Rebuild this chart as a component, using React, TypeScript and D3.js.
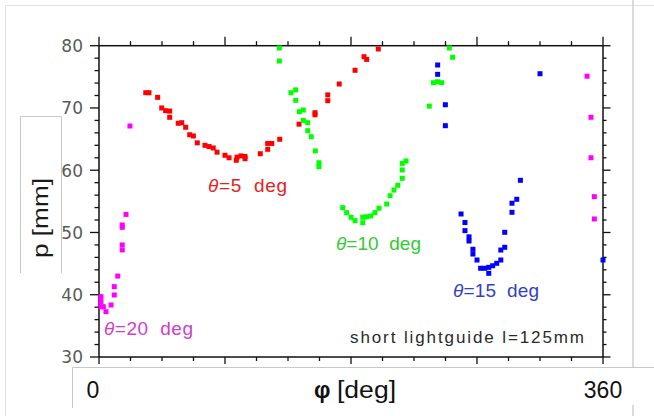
import React from "react";
import * as d3 from "d3";

// p [mm] vs phi [deg] for four theta settings
const theta5: [number, number][] = [
  [33.4, 72.45], [35.7, 72.45], [41.9, 71.7], [44.8, 70.0], [47.6, 69.56],
  [50.5, 69.5], [50.5, 68.5], [56.6, 67.54], [59.1, 67.63], [61.9, 66.9],
  [64.8, 65.7], [67.4, 65.5], [70.2, 64.4], [75.7, 64.0], [78.6, 63.8],
  [81.6, 63.57], [84.3, 62.9], [90.0, 62.4], [92.9, 62.0], [98.1, 61.6],
  [98.6, 62.1], [101.4, 62.3], [104.3, 62.2], [104.3, 61.85], [115.2, 62.65],
  [120.5, 63.36], [123.4, 64.3], [120.5, 64.3], [129.1, 64.97], [142.9, 67.4],
  [154.3, 69.24], [154.3, 68.9], [163.4, 72.1], [163.4, 71.17], [171.6, 73.85],
  [182.9, 76.05], [189.3, 78.23], [191.2, 77.8], [199.5, 79.47],
];

const theta10: [number, number][] = [
  [128.8, 79.63], [128.8, 77.54], [137.1, 72.45], [140.5, 72.9], [140.5, 71.23],
  [143.1, 69.4], [145.9, 69.67], [145.9, 68.0], [149.1, 67.63], [149.1, 66.35],
  [151.6, 65.38], [154.5, 63.1], [157.1, 61.2], [157.1, 60.57], [174.1, 53.98],
  [176.9, 53.18], [180.0, 52.44], [182.9, 51.9], [188.4, 52.44], [188.4, 51.57],
  [191.2, 52.53], [194.1, 52.65], [197.1, 53.18], [200.0, 53.9], [205.5, 54.57],
  [207.9, 55.9], [210.7, 56.82], [213.4, 57.58], [216.6, 58.7], [216.6, 60.04],
  [216.6, 61.1], [219.3, 61.48], [235.9, 70.3], [238.8, 74.06], [241.9, 74.2],
  [244.8, 74.06], [250.2, 79.63], [252.6, 78.14],
];

const theta15: [number, number][] = [
  [241.9, 76.9], [241.9, 75.4], [247.4, 70.52], [247.4, 67.15], [258.6, 52.97],
  [261.4, 51.6], [261.4, 50.3], [264.3, 49.3], [264.3, 48.63], [267.1, 47.3],
  [267.1, 46.54], [270.0, 45.58], [272.6, 44.25], [275.5, 44.25], [278.4, 44.4],
  [278.4, 43.44], [281.2, 44.66], [284.1, 45.05], [287.0, 45.58], [287.0, 47.18],
  [289.8, 47.62], [289.8, 50.03], [295.0, 53.24], [295.0, 54.7], [298.4, 55.33],
  [301.0, 58.38], [315.0, 75.5], [360.0, 45.58],
];

const theta20: [number, number][] = [
  [1.4, 39.7], [1.4, 38.9], [1.4, 38.08], [3.1, 38.08], [5.0, 37.28], [8.6, 38.35],
  [10.9, 41.3], [10.9, 39.96], [13.4, 43.0], [16.6, 51.2], [16.6, 50.83],
  [16.6, 48.0], [16.6, 47.2], [19.3, 52.9], [22.1, 67.1], [348.6, 75.1],
  [351.4, 68.5], [351.4, 62.0], [353.8, 55.75], [353.8, 52.17],
];

const yTickLabels = [30, 40, 50, 60, 70, 80];
const xTickLabels = [0, 360];

const x = d3.scaleLinear().domain([0, 360]).range([99, 603]);
const y = d3.scaleLinear().domain([30, 80]).range([357, 45.7]);

const xTicks = d3.range(0, 360.01, 22.5);
const yTicks = d3.range(30, 80.01, 2);

const series = [
  { data: theta5, color: "#ff0000" },
  { data: theta10, color: "#00ff00" },
  { data: theta15, color: "#0000ff" },
  { data: theta20, color: "#ff00ff" },
];

const M = 5; // marker size

export default function App() {
  const [x0, x1] = x.range();
  const [y0, y1] = y.range();
  const axis = "#111";
  const isMajorX = (t: number) => t % 90 === 0;
  const isMajorY = (t: number) => t % 10 === 0;
  return (
    <div style={{ position: "absolute", left: 0, top: 0 }}>
      <svg width={654} height={416} style={{ display: "block", background: "#fff" }}>
        {/* outer frame */}
        <line x1={5.5} y1={5.5} x2={654} y2={5.5} stroke="#e2e2e2" />
        <line x1={5.5} y1={5.5} x2={5.5} y2={416} stroke="#e2e2e2" />
        <line x1={633} y1={0} x2={633} y2={367} stroke="#cfcfcf" strokeWidth={1.5} />
        <line x1={633} y1={405} x2={633} y2={416} stroke="#cfcfcf" strokeWidth={1.5} />

        {/* y label box */}
        <path d="M20.5,273 V116.5 H61.5 V273" fill="none" stroke="#c8c8c8" />
        {/* x label box */}
        <path d="M72.5,408 V367.5 H654" fill="none" stroke="#c8c8c8" />

        {/* axes frame */}
        <rect x={x0} y={y1} width={x1 - x0} height={y0 - y1} fill="none" stroke={axis} strokeWidth={1.5} />

        {xTicks.map((t) => {
          const px = x(t);
          const top = isMajorX(t) ? 9 : 4.5;
          const bot = isMajorX(t) ? 7 : 4;
          return (
            <g key={"xt" + t} stroke={axis} strokeWidth={1.3}>
              <line x1={px} x2={px} y1={y1} y2={y1 - top} />
              <line x1={px} x2={px} y1={y0} y2={y0 + bot} />
            </g>
          );
        })}
        {yTicks.map((t) => {
          const py = y(t);
          const left = isMajorY(t) ? 9 : 4.5;
          const right = isMajorY(t) ? 7.5 : 3.5;
          return (
            <g key={"yt" + t} stroke={axis} strokeWidth={1.3}>
              <line x1={x0} x2={x0 - left} y1={py} y2={py} />
              <line x1={x1} x2={x1 + right} y1={py} y2={py} />
            </g>
          );
        })}

        {yTickLabels.map((t) => (
          <text
            key={"yl" + t}
            x={83}
            y={y(t) + 6.4}
            textAnchor="end"
            fontFamily="DejaVu Sans"
            fontSize={17}
            fill="#5a5a5a"
          >
            {t}
          </text>
        ))}

        {xTickLabels.map((t) => (
          <text
            key={"xl" + t}
            x={x(t) - (t === 0 ? 6 : 0)}
            y={397.5}
            textAnchor="middle"
            fontFamily="Liberation Sans"
            fontSize={23}
            fill="#111"
          >
            {t}
          </text>
        ))}

        <text x={314} y={397.5} fontFamily="Liberation Sans" fontSize={23} fontWeight="bold" fill="#111">
          φ
        </text>
        <text
          x={337}
          y={397.5}
          fontFamily="Liberation Sans"
          fontSize={23}
          fill="#111"
          textLength={59}
          lengthAdjust="spacingAndGlyphs"
        >
          [deg]
        </text>
        <text
          transform="translate(48,218) rotate(-90)"
          textAnchor="middle"
          fontFamily="Liberation Sans"
          fontSize={22}
          fill="#1a1a1a"
          textLength={80}
          lengthAdjust="spacingAndGlyphs"
        >
          p [mm]
        </text>

        {/* markers */}
        {series.map((s, i) => (
          <g key={"s" + i} fill={s.color}>
            {s.data.map(([phi, p], j) => (
              <rect key={j} x={x(phi) - M / 2} y={y(p) - M / 2} width={M} height={M} />
            ))}
          </g>
        ))}

        {/* annotations */}
        <g fontFamily="Liberation Sans" fontSize={19}>
          <text x={208} y={192} fill="#e52222" textLength={79} lengthAdjust="spacing" xmlSpace="preserve">
            <tspan fontStyle="italic">θ</tspan>=5  deg
          </text>
          <text x={336} y={250} fill="#33cc33" textLength={85} lengthAdjust="spacing" xmlSpace="preserve">
            <tspan fontStyle="italic">θ</tspan>=10  deg
          </text>
          <text x={453} y={297} fill="#3040cc" textLength={86} lengthAdjust="spacing" xmlSpace="preserve">
            <tspan fontStyle="italic">θ</tspan>=15  deg
          </text>
          <text x={104} y={335} fill="#cc40cc" textLength={89} lengthAdjust="spacing" xmlSpace="preserve">
            <tspan fontStyle="italic">θ</tspan>=20  deg
          </text>
          <text x={350} y={343} fontSize={17} fill="#2a2a2a" textLength={234} lengthAdjust="spacing">
            short lightguide l=125mm
          </text>
        </g>
      </svg>
    </div>
  );
}
